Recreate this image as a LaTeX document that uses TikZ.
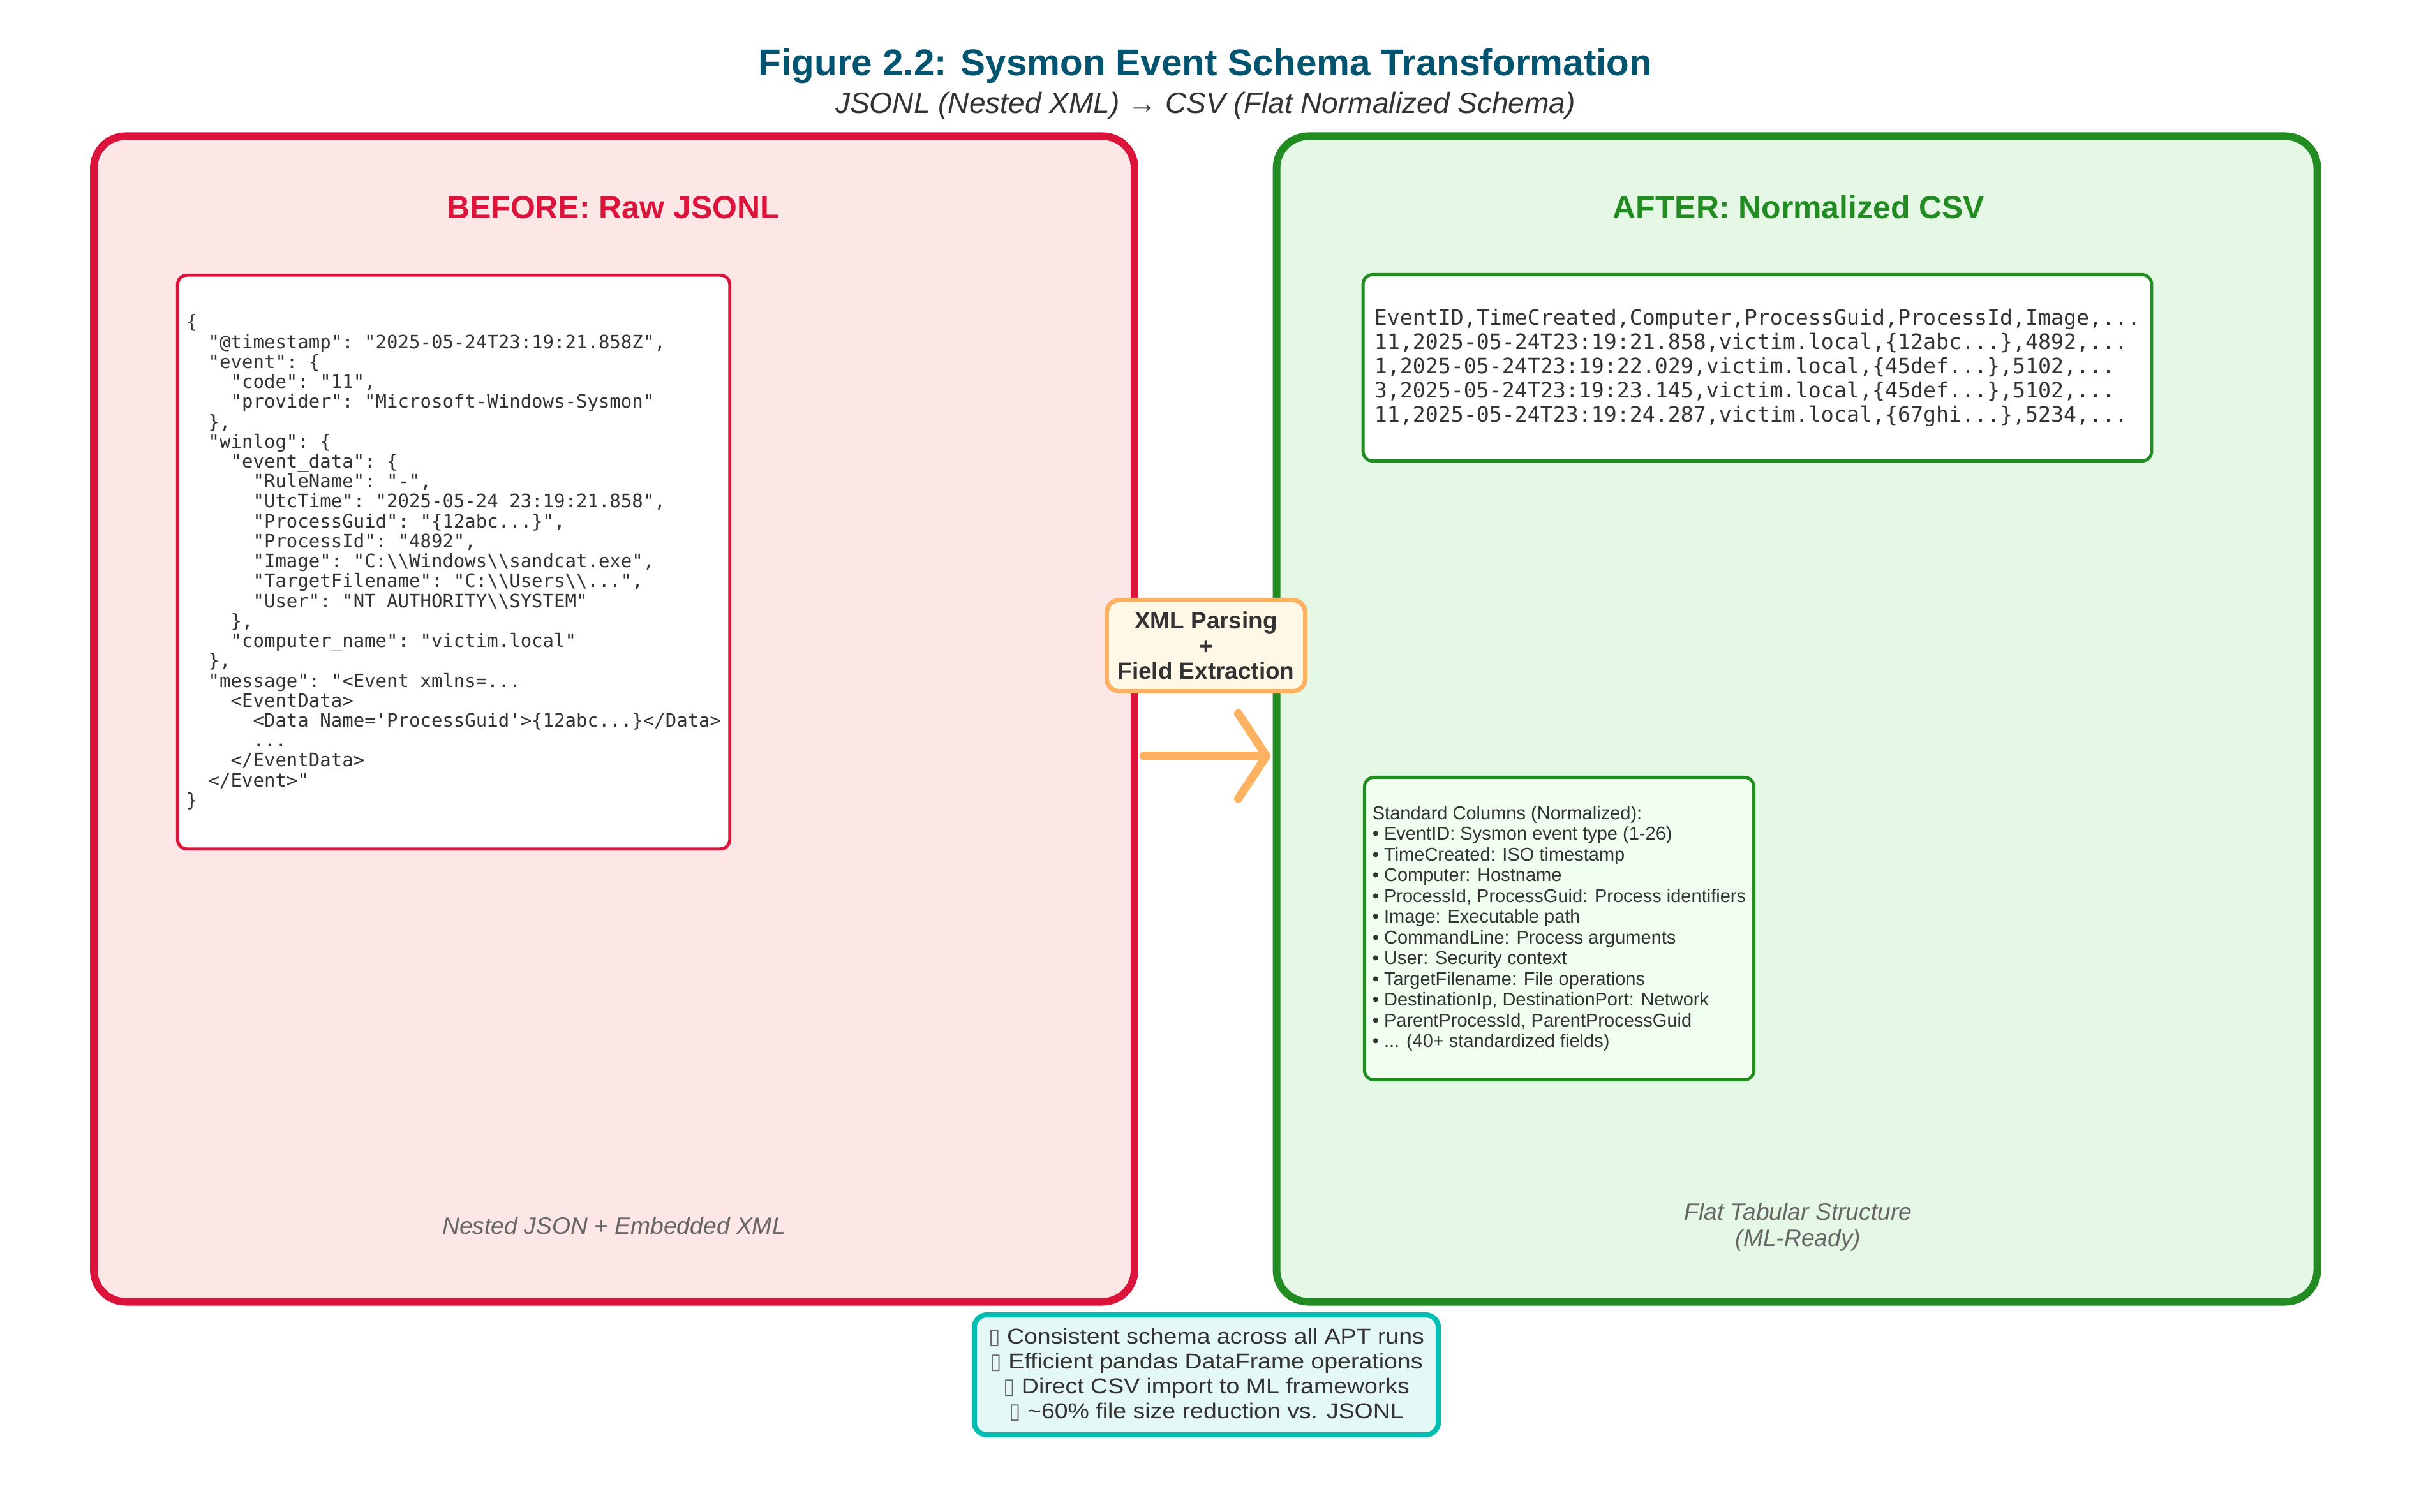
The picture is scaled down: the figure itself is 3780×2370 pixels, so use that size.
\documentclass[tikz,border=0pt]{standalone}
\usepackage{fontspec}
\setmainfont{Liberation Sans}
\setmonofont{DejaVu Sans Mono}
\newfontfamily\symfont{DejaVu Sans}
\newfontfamily\widefont{Liberation Sans}[FakeStretch=1.11]
\usetikzlibrary{arrows.meta}

\definecolor{titleblue}{RGB}{0,84,112}
\definecolor{crimson}{RGB}{220,20,60}
\definecolor{beforebg}{RGB}{253,230,230}
\definecolor{forest}{RGB}{34,139,34}
\definecolor{afterbg}{RGB}{229,248,229}
\definecolor{honeydew}{RGB}{240,255,240}
\definecolor{peach}{RGB}{253,178,98}
\definecolor{cream}{RGB}{255,248,231}
\definecolor{benefitteal}{RGB}{0,191,178}
\definecolor{benefitbg}{RGB}{228,248,246}
\definecolor{textgray}{RGB}{51,51,51}
\definecolor{notegray}{RGB}{102,102,102}

\newcommand{\dbs}{\textbackslash\textbackslash}
\newcommand{\tofu}{{\symfont\color{notegray}▯}}

\begin{document}
\begin{tikzpicture}[x=0.01cm,y=-0.01cm,
    panel/.style={line width=3.4pt, rounded corners=0.5cm, minimum width=16.30cm, minimum height=18.26cm},
    codebox/.style={fill=white, line width=1.4pt, rounded corners=0.15cm, align=left, text=textgray},
    heading/.style={font=\bfseries\fontsize{14.2}{17}\selectfont, anchor=base},
    note/.style={font=\itshape\fontsize{10.6}{11.7}\selectfont, text=notegray, align=center}]
        \useasboundingbox (0,0) rectangle (3780,2370);
        % Title
        \node[font=\bfseries\fontsize{16.6}{20}\selectfont, text=titleblue, anchor=base] (title) at (1889,119) {Figure 2.2: Sysmon Event Schema Transformation};
        \node[font=\itshape\fontsize{13.1}{15}\selectfont, text=textgray, anchor=base] (subtitle) at (1889,178) {JSONL (Nested XML) → CSV (Flat Normalized Schema)};
        % Panels
        \node[panel, draw=crimson, fill=beforebg] (before) at (962.5,1127) {};
        \node[panel, draw=forest, fill=afterbg] (after) at (2816,1127) {};
        \node[heading, text=crimson] (beforetitle) at (961,343) {BEFORE: Raw JSONL};
        \node[heading, text=forest] (aftertitle) at (2819,343) {AFTER: Normalized CSV};
        % Raw JSONL record
        \node[codebox, draw=crimson, minimum width=8.65cm, minimum height=8.99cm, font=\ttfamily\fontsize{8.25}{8.88}\selectfont] (jsonl) at (711,881) {%
\{\\
~~"@timestamp": "2025-05-24T23:19:21.858Z",\\
~~"event": \{\\
~~~~"code": "11",\\
~~~~"provider": "Microsoft-Windows-Sysmon"\\
~~\},\\
~~"winlog": \{\\
~~~~"event\_data": \{\\
~~~~~~"RuleName": "-",\\
~~~~~~"UtcTime": "2025-05-24 23:19:21.858",\\
~~~~~~"ProcessGuid": "\{12abc...\}",\\
~~~~~~"ProcessId": "4892",\\
~~~~~~"Image": "C:\dbs Windows\dbs sandcat.exe",\\
~~~~~~"TargetFilename": "C:\dbs Users\dbs...",\\
~~~~~~"User": "NT AUTHORITY\dbs SYSTEM"\\
~~~~\},\\
~~~~"computer\_name": "victim.local"\\
~~\},\\
~~"message": "<Event xmlns=...\\
~~~~<EventData>\\
~~~~~~<Data Name='ProcessGuid'>\{12abc...\}</Data>\\
~~~~~~...\\
~~~~</EventData>\\
~~</Event>"\\
\}};
        % Flat CSV rows
        \node[codebox, draw=forest, minimum width=12.35cm, minimum height=2.92cm, font=\ttfamily\fontsize{9.45}{10.8}\selectfont] (csv) at (2754,576.5) {%
EventID,TimeCreated,Computer,ProcessGuid,ProcessId,Image,...\\
11,2025-05-24T23:19:21.858,victim.local,\{12abc...\},4892,...\\
1,2025-05-24T23:19:22.029,victim.local,\{45def...\},5102,...\\
3,2025-05-24T23:19:23.145,victim.local,\{45def...\},5102,...\\
11,2025-05-24T23:19:24.287,victim.local,\{67ghi...\},5234,...};
        % Column list
        \node[codebox, draw=forest, fill=honeydew, minimum width=6.10cm, minimum height=4.74cm, font=\fontsize{8.25}{9.25}\selectfont] (columns) at (2443.5,1455.5) {%
Standard Columns (Normalized):\\
• EventID: Sysmon event type (1-26)\\
• TimeCreated: ISO timestamp\\
• Computer: Hostname\\
• ProcessId, ProcessGuid: Process identifiers\\
• Image: Executable path\\
• CommandLine: Process arguments\\
• User: Security context\\
• TargetFilename: File operations\\
• DestinationIp, DestinationPort: Network\\
• ParentProcessId, ParentProcessGuid\\
• ... (40+ standardized fields)};
        % Footnotes
        \node[note] (beforenote) at (962,1921) {Nested JSON + Embedded XML};
        \node[note] (afternote) at (2818,1923) {Flat Tabular Structure\\(ML-Ready)};
        % Transformation
        \node[draw=peach, fill=cream, line width=2pt, rounded corners=0.2cm, minimum width=3.11cm, minimum height=1.43cm, align=center, text=textgray, font=\bfseries\fontsize{10.5}{11.2}\selectfont] (parse) at (1890,1012) {XML Parsing\\+\\Field Extraction};
        \draw[draw=peach, line width=3.7pt, line cap=round, -{Straight Barb[length=12.5pt, width=38pt, round]}, shorten <=2.4pt, shorten >=1pt] (before.east |- 0,1185) -- (after.west |- 0,1185);
        % Benefits
        \node[draw=benefitteal, fill=benefitbg, line width=2.3pt, rounded corners=0.2cm, minimum width=7.27cm, minimum height=1.88cm, align=center, text=textgray, font=\widefont\fontsize{9.6}{11.1}\selectfont] (benefits) at (1890.5,2155) {%
\tofu{} Consistent schema across all APT runs\\
\tofu{} Efficient pandas DataFrame operations\\
\tofu{} Direct CSV import to ML frameworks\\
\tofu{} \textasciitilde60\% file size reduction vs. JSONL};
\end{tikzpicture}
\end{document}
